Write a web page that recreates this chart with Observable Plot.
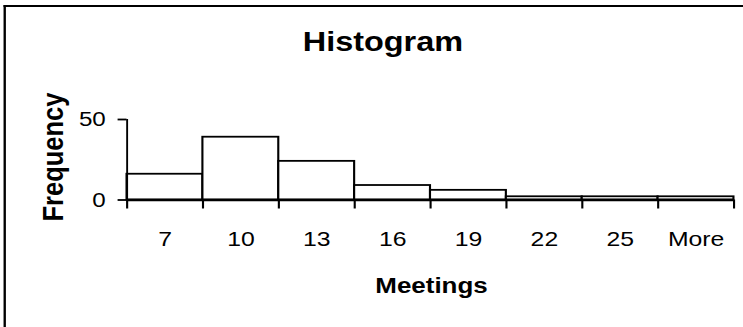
<!DOCTYPE html>
<html>
<head>
<meta charset="utf-8">
<script src="https://cdn.jsdelivr.net/npm/d3@7"></script>
<script src="https://cdn.jsdelivr.net/npm/@observablehq/plot@0.6"></script>
<style>
  html, body { margin: 0; padding: 0; background: #fff; overflow: hidden; width: 743px; height: 327px; }
  #wrap { position: relative; width: 630px; height: 327px; transform: scaleX(1.179365); transform-origin: 0 0;
          font-family: Arial, "Liberation Sans", sans-serif; color: #000; }
  .border { position: absolute; left: 3.4px; top: 5px; width: 700px; height: 400px;
            border-left: 2.6px solid #000; border-top: 2px solid #000; }
  .t { position: absolute; white-space: nowrap; line-height: 1; font-weight: bold; }
  #title { left: 324.7px; top: 28.4px; font-size: 27.5px; transform: translateX(-50%); }
  #xl { left: 365.9px; top: 274.6px; font-size: 22px; transform: translateX(-50%); }
  #yl { left: 45px; top: 157px; font-size: 25.5px; transform: translate(-50%, -50%) rotate(-90deg); }
  #chart { position: absolute; left: 0; top: 0; }
  #chart svg { display: block; background: transparent; }
</style>
</head>
<body>
<div id="wrap">
  <div class="border"></div>
  <div id="chart"></div>
  <div class="t" id="title">Histogram</div>
  <div class="t" id="yl">Frequency</div>
  <div class="t" id="xl">Meetings</div>
</div>
<script>
const categories = ["7", "10", "13", "16", "19", "22", "25", "More"];
const frequency = [16, 39, 24, 9, 6, 2, 2, 2];
const yTicks = [0, 50];

const data = categories.map((c, i) => ({bin: c, i, f: frequency[i]}));

const chart = Plot.plot({
  width: 630,
  height: 327,
  marginLeft: 107.3,
  marginRight: 8.1,
  marginTop: 119,
  marginBottom: 127.5,
  style: {fontSize: "20px", fontFamily: "Arial, 'Liberation Sans', sans-serif", color: "#000", background: "transparent"},
  x: {domain: [0, categories.length]},
  y: {domain: [0, 50]},
  marks: [
    Plot.rect(data, {x1: d => d.i, x2: d => d.i + 1, y1: 0, y2: "f", fill: "white", stroke: "black", strokeWidth: 1.8}),
    Plot.ruleY([0], {stroke: "black", strokeWidth: 2.6}),
    Plot.ruleX([0], {y1: 0, y2: 50, stroke: "black", strokeWidth: 1.6}),
    Plot.axisY({ticks: yTicks, tickSize: 7.6, tickPadding: 10.5, tickFormat: d => String(d), fontSize: 20.5, strokeWidth: 1.8, label: null}),
    Plot.axisX({ticks: d3.range(categories.length + 1), tickSize: 9, tickFormat: () => "", strokeWidth: 1.8, label: null}),
    Plot.axisX({ticks: categories.map((_, i) => i + 0.5), tickSize: 0, tickPadding: 31.5, tickFormat: d => categories[Math.floor(d)], fontSize: 21, label: null})
  ]
});
document.getElementById("chart").appendChild(chart);
</script>
</body>
</html>
